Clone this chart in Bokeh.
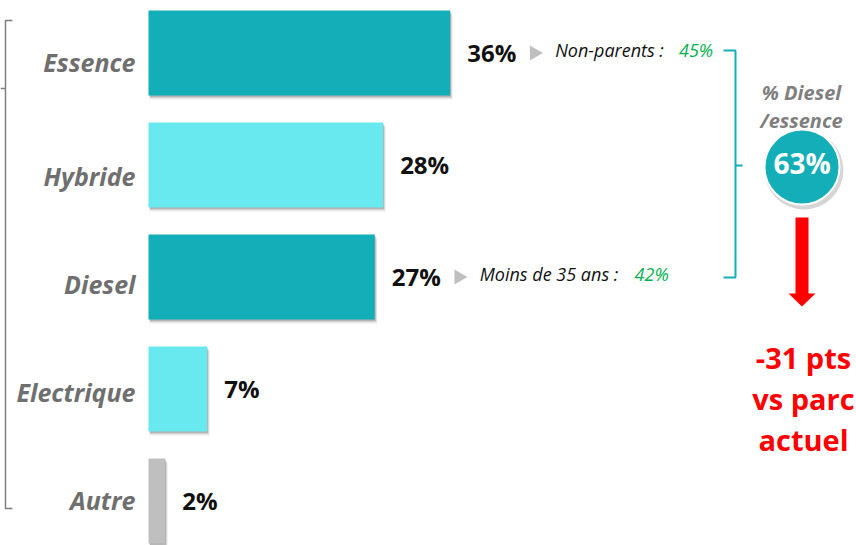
import numpy as np
from bokeh.plotting import figure
from bokeh.models import Range1d
from bokeh.core.properties import value
from bokeh.embed import file_html
from bokeh.resources import INLINE

# ---------------- data ----------------
categories = ["Essence", "Hybride", "Diesel", "Electrique", "Autre"]
shares = [36, 28, 27, 7, 2]
share_labels = ["36%", "28%", "27%", "7%", "2%"]
bar_colors = ["#13AEB7", "#68E9EF", "#13AEB7", "#68E9EF", "#BFBFBF"]

note_rows = [0, 2]
note_texts = ["Non-parents :", "Moins de 35 ans :"]
note_values = ["45%", "42%"]

ratio_title = ["% Diesel", "/essence"]
ratio_label = "63%"
delta_lines = ["-31 pts", "vs parc", "actuel"]

# ---------------- layout helpers (reference pixel -> data) ----------------
PX = 8.38      # pixels per percentage point
X0 = 148.0     # pixel of 0%
Y0 = 52.5      # pixel centre of first bar
DY = 112.0     # pixels between bars


def px2x(px):
    return (px - X0) / PX


def px2y(py):
    return (py - Y0) / DY


W, H = 856, 545
p = figure(width=W, height=H,
           x_range=Range1d(px2x(0), px2x(W)),
           y_range=Range1d(px2y(H), px2y(0)),
           output_backend="svg", toolbar_location=None, min_border=0,
           x_axis_location=None, y_axis_location=None,
           outline_line_color=None, background_fill_color="white",
           border_fill_color="white")
p.grid.visible = False

FONT = value("Open Sans")
idx = list(range(len(categories)))
TEAL = "#13AEB7"

# bar shadows
for k, a in [(4, 0.08), (2.5, 0.12), (1.2, 0.15)]:
    p.hbar(y=[i + k / DY for i in idx], left=[0.15] * len(idx),
           right=[v + k * 0.6 / PX for v in shares], height=0.76,
           fill_color="#000000", fill_alpha=a, line_color=None)

# bars
p.hbar(y=idx, left=0, right=shares, height=0.76,
       fill_color=bar_colors, line_color=None)

# value labels
p.text(x=shares, y=idx, text=share_labels, x_offset=17, y_offset=-1,
       text_baseline="middle", text_align="left", text_font=FONT,
       text_font_style="bold", text_font_size="24px", text_color="#111111")

# category labels
p.text(x=[0] * len(idx), y=idx, text=categories, x_offset=-13,
       y_offset=[9, 11, 7, 3, -1.5],
       text_baseline="middle", text_align="right", text_font=FONT,
       text_font_style="bold italic", text_font_size="25px",
       text_color="#6F6F6F")

# notes
note_x = [shares[r] for r in note_rows]
note_y = [r for r in note_rows]
p.scatter(x=[v + 84 / PX for v in note_x], y=[y + 0 / DY for y in note_y],
          marker="triangle", size=15, angle=-np.pi / 2,
          fill_color="#BFBFBF", line_color=None)
p.text(x=note_x, y=note_y, text=note_texts, x_offset=105, y_offset=-3,
       text_baseline="middle", text_font=FONT, text_font_style="italic",
       text_font_size="18px", text_color="#111111")
p.text(x=note_x, y=note_y, text=note_values,
       x_offset=[263, 294], y_offset=-3, text_align="right",
       text_baseline="middle", text_font=FONT, text_font_style="italic",
       text_font_size="18px", text_color="#00B050")

# right bracket (teal)
p.multi_line(xs=[[px2x(723), px2x(735), px2x(735), px2x(723)],
                 [px2x(735), px2x(742)]],
             ys=[[px2y(50), px2y(50), px2y(277), px2y(277)],
                 [px2y(165), px2y(165)]],
             line_color=TEAL, line_width=2)

# left bracket (gray)
p.multi_line(xs=[[px2x(12), px2x(5), px2x(5), px2x(12)],
                 [px2x(5), px2x(0)]],
             ys=[[px2y(20), px2y(20), px2y(508), px2y(508)],
                 [px2y(88), px2y(88)]],
             line_color="#808080", line_width=1.5)

# ratio title
p.text(x=[px2x(801)] * 2, y=[px2y(92), px2y(120)], text=ratio_title,
       text_align="center", text_baseline="alphabetic", text_font=FONT,
       text_font_style="bold italic", text_font_size="20px",
       text_color="#7F7F7F")

# ratio bubble
p.scatter(x=[px2x(803.5)], y=[px2y(169.5)], size=79, marker="circle",
          fill_color="#000000", fill_alpha=0.16, line_color=None)
p.scatter(x=[px2x(801.5)], y=[px2y(166.5)], size=75, marker="circle",
          fill_color=TEAL, line_color="white", line_width=2)
p.text(x=[px2x(801.5)], y=[px2y(162)], text=[ratio_label],
       text_align="center", text_baseline="middle", text_font=FONT,
       text_font_style="bold", text_font_size="28px", text_color="white")

# red arrow
RED = "#FF0000"
p.quad(left=[px2x(795)], right=[px2x(808)], top=[px2y(217)],
       bottom=[px2y(294)], fill_color=RED, line_color=None)
p.patch(x=[px2x(788), px2x(815), px2x(801.5)],
        y=[px2y(293), px2y(293), px2y(306)],
        fill_color=RED, line_color=None)

# red delta text
p.text(x=[px2x(803)] * 3, y=[px2y(357), px2y(398), px2y(439)],
       text=delta_lines, text_align="center", text_baseline="alphabetic",
       text_font=FONT, text_font_style="bold", text_font_size="29px",
       text_color=RED)

open("out.html", "w").write(file_html(p, INLINE))
